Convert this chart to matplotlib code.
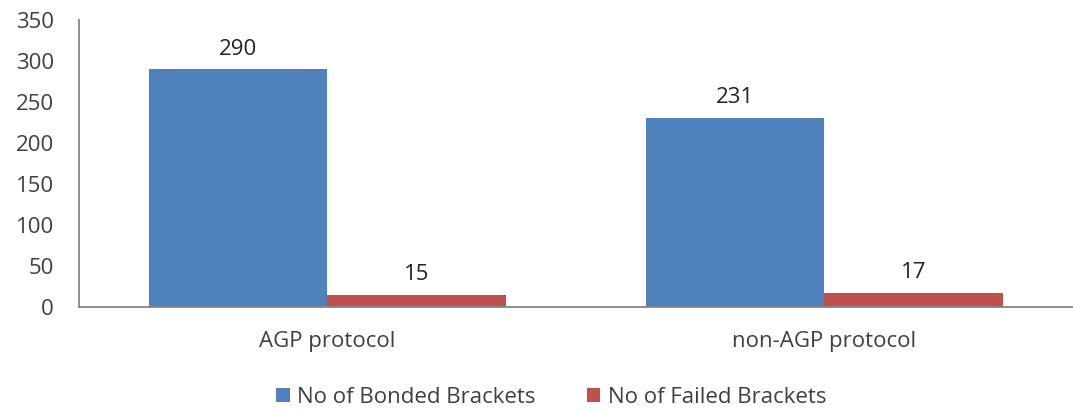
import numpy as np
import matplotlib.pyplot as plt

plt.rcParams['font.family'] = ['Open Sans', 'DejaVu Sans']

categories = ['AGP protocol', 'non-AGP protocol']
bonded = [290, 231]
failed = [15, 17]
series_names = ['No of Bonded Brackets', 'No of Failed Brackets']

BLUE = '#4F81BD'
RED = '#C0504D'
TEXT = '#404040'
FS = 16

fig = plt.figure(figsize=(10.73, 4.12), dpi=100)
ax = fig.add_axes([0.0736, 0.255, 0.9264, 0.696])

x = np.arange(len(categories))
w = 0.36
b1 = ax.bar(x - w / 2, bonded, w, color=BLUE, label=series_names[0])
b2 = ax.bar(x + w / 2, failed, w, color=RED, label=series_names[1])

for bars in [b1, b2]:
    for rect in bars:
        ax.annotate('%d' % rect.get_height(),
                    (rect.get_x() + rect.get_width() / 2, rect.get_height()),
                    xytext=(0, 7), textcoords='offset points',
                    ha='center', va='bottom', fontsize=FS, color='#222222')

ax.set_xlim(-0.5, 1.5)
ax.set_ylim(0, 350)
ax.set_yticks(range(0, 351, 50))
ax.set_xticks(x)
ax.set_xticklabels(categories)
ax.tick_params(axis='both', length=0, labelsize=FS, colors=TEXT)
ax.tick_params(axis='y', pad=18)
ax.tick_params(axis='x', pad=17)

for s in ['top', 'right']:
    ax.spines[s].set_visible(False)
for s in ['left', 'bottom']:
    ax.spines[s].set_color('#868686')
    ax.spines[s].set_linewidth(1.3)

fig.legend(loc='center', bbox_to_anchor=(0.514, 0.036), ncol=2, frameon=False,
           fontsize=FS, handlelength=0.6, handleheight=0.6, handletextpad=0.35,
           columnspacing=2.3, labelcolor=TEXT)

fig.savefig('out.png', dpi=100)
